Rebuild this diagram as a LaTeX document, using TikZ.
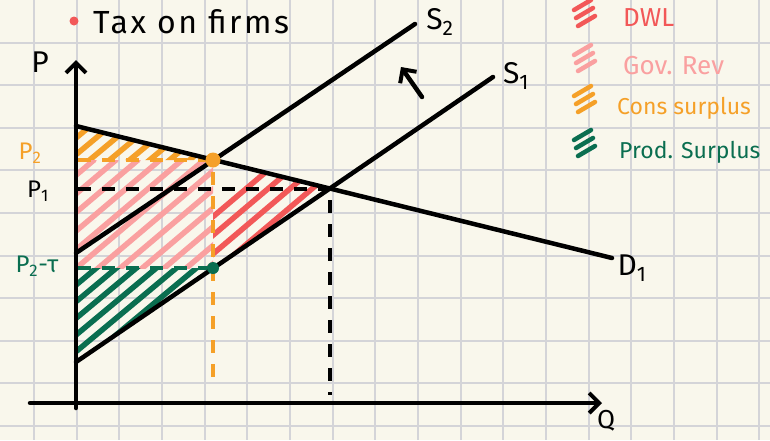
\documentclass[tikz,border=0pt]{standalone}
\usepackage{fontspec}
\setmainfont{Fira Sans}
\usetikzlibrary{arrows.meta}
\definecolor{paper}{RGB}{249,247,236}
\definecolor{gridc}{RGB}{212,212,216}
\definecolor{dwlred}{RGB}{242,88,88}
\definecolor{revpink}{RGB}{250,160,160}
\definecolor{consorange}{RGB}{245,160,40}
\definecolor{prodgreen}{RGB}{10,110,80}

\begin{document}
\begin{tikzpicture}[x=1pt, y=-1pt,
  lbl/.style={font=\fontsize{30}{32}\selectfont, inner sep=1pt},
  leg/.style={font=\fontsize{26}{28}\selectfont, inner sep=1pt, anchor=west},
  gridline/.style={draw=gridc, line width=2pt},
  curve/.style={draw=black, line width=4.5pt, line cap=round},
  axisline/.style={draw=black, line width=4.5pt, line cap=round, -{Straight Barb[length=10pt, width=20pt, line width=4pt]}},
  dashline/.style={draw=#1, line width=4.5pt, dash pattern=on 13pt off 11pt},
  hatch/.style={draw=#1, line width=5.5pt, line cap=round},
  dot/.style={circle, fill=#1, inner sep=0pt}
]
\clip (0,0) rectangle (770,440);
\fill[paper] (0,0) rectangle (770,440);

% grid paper
\foreach \k in {0,...,17} \draw[gridline] ({34+42.67*\k},0) -- ({34+42.67*\k},440);
\foreach \k in {1,...,10} \draw[gridline] (0,{42.6*\k}) -- (770,{42.6*\k});

% key points
\coordinate (ytop) at (76,60);
\coordinate (ybot) at (76,408);
\coordinate (xleft) at (30,403);
\coordinate (xright) at (602,403);
\coordinate (d0) at (76,126);
\coordinate (d1) at (612,258);
\coordinate (s20) at (76,253);
\coordinate (s21) at (415,24);
\coordinate (s10) at (76,362);
\coordinate (s11) at (493,77);
\coordinate (e2) at (213,160);
\coordinate (e1) at (330,189);
\coordinate (g) at (213,268);
\coordinate (p2ax) at (78,160);
\coordinate (p1ax) at (78,189);
\coordinate (ptax) at (78,268);
\coordinate (q2) at (213,385);
\coordinate (q1) at (330,395);
\coordinate (shfrom) at (422,97);
\coordinate (shto) at (401,67);

% hatched areas
\begin{scope}
  \clip (d0) -- (e2) -- (p2ax) -- cycle;
  \foreach \c in {-60,-40,...,220} \draw[hatch=consorange] (\c,168) -- ++(60,-50);
\end{scope}
\begin{scope}
  \clip (p2ax) rectangle (g);
  \foreach \c in {-80,-58,...,220} \draw[hatch=revpink] (\c,270) -- ++(130,-110);
\end{scope}
\begin{scope}
  \clip (e2) -- (e1) -- (g) -- cycle;
  \foreach \c in {150,172,...,330} \draw[hatch=dwlred] (\c,270) -- ++(130,-110);
\end{scope}
\begin{scope}
  \clip (ptax) -- (g) -- (s10) -- cycle;
  \foreach \c in {-40,-20,...,220} \draw[hatch=prodgreen] (\c,365) -- ++(120,-100);
\end{scope}

% dashed guides
\draw[dashline=consorange] (p2ax) -- (e2);
\draw[dashline=consorange, shorten <=12pt] (e2) -- (q2);
\draw[dashline=black] (p1ax) -- (e1);
\draw[dashline=black, shorten <=11pt] (e1) -- (q1);
\draw[dashline=prodgreen] (ptax) -- (g);

% axes and curves
\draw[axisline] (ybot) -- (ytop);
\draw[axisline] (xleft) -- (xright);
\draw[curve] (d0) -- (d1);
\draw[curve] (s20) -- (s21);
\draw[curve] (s10) -- (s11);
\draw[axisline] (shfrom) -- (shto);

\node[dot=consorange, minimum size=15pt] (e2dot) at (e2) {};
\node[dot=prodgreen, minimum size=12pt] (gdot) at (g) {};

% labels
\node[lbl] (plab) at (40,62) {P};
\node[lbl, font=\fontsize{26}{28}\selectfont] (qlab) at (606,421) {Q};
\node[lbl] (s2lab) at (440,22) {S\textsubscript{2}};
\node[lbl] (s1lab) at (516,76) {S\textsubscript{1}};
\node[lbl] (d1lab) at (632,268) {D\textsubscript{1}};
\node[lbl, text=consorange, font=\fontsize{24}{26}\selectfont] (p2lab) at (30,153) {P\textsubscript{2}};
\node[lbl, font=\fontsize{24}{26}\selectfont] (p1lab) at (38,191) {P\textsubscript{1}};
\node[lbl, text=prodgreen, font=\fontsize{24}{26}\selectfont] (ptlab) at (37,266) {P\textsubscript{2}-τ};

% title
\node[dot=dwlred, minimum size=9pt] (bullet) at (74,21) {};
\node[lbl, anchor=west, font=\fontsize{32}{34}\selectfont\addfontfeatures{LetterSpace=8}] (title) at (92,22) {Tax on firms};

% legend
\foreach \col/\yy in {dwlred/16, revpink/61, consorange/102, prodgreen/146}
  \foreach \i in {0,1,2}
    \draw[hatch=\col, line width=4.5pt] ({574+2*\i},{\yy-6+8*\i}) -- ++(17,-10);
\node[leg, text=dwlred] (ldwl) at (622,18) {DWL};
\node[leg, text=revpink] (lrev) at (622,66) {Gov. Rev};
\node[leg, text=consorange, font=\fontsize{23}{25}\selectfont] (lcons) at (616,108) {Cons surplus};
\node[leg, text=prodgreen, font=\fontsize{23}{25}\selectfont] (lprod) at (618,152) {Prod. Surplus};

\end{tikzpicture}
\end{document}
